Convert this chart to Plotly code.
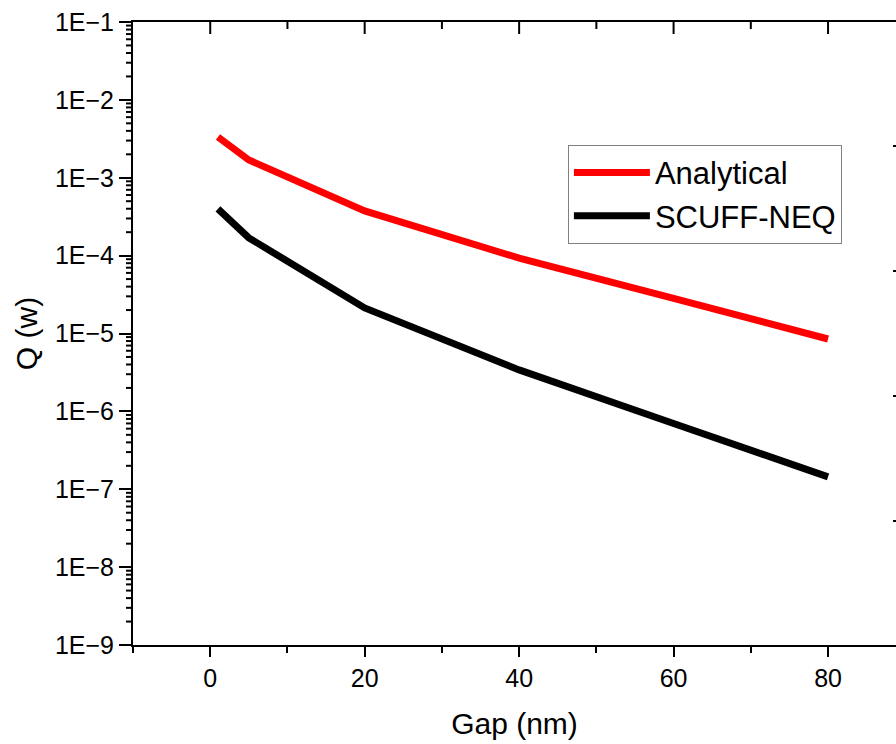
import math
import plotly.graph_objects as go

gap_nm = [1, 5, 20, 40, 60, 80]
analytical = [3.34e-3, 1.69e-3, 3.75e-4, 9.3e-5, 2.83e-5, 8.5e-6]
scuff_neq = [3.98e-4, 1.69e-4, 2.13e-5, 3.41e-6, 7.0e-7, 1.44e-7]

y_decades = list(range(-9, 0))
y_tick_vals = [10.0 ** e for e in y_decades]
y_tick_text = ["1E\u2212%d" % (-e) for e in y_decades]
y_minor_vals = [m * 10.0 ** e for e in y_decades[:-1] for m in range(2, 10)]
x_tick_vals = [0, 20, 40, 60, 80]
x_minor_vals = [10, 30, 50, 70]

Y_LOG_RANGE = [-9, -1]
FONT = "Arial, Liberation Sans, sans-serif"
PLOT_W, PLOT_H = 763, 623

fig = go.Figure()
fig.add_trace(go.Scatter(x=gap_nm, y=analytical, mode="lines", name="Analytical",
                         line=dict(color="#ff0000", width=7)))
fig.add_trace(go.Scatter(x=gap_nm, y=scuff_neq, mode="lines", name="SCUFF-NEQ",
                         line=dict(color="#000000", width=7)))

axis_common = dict(showgrid=False, zeroline=False, linecolor="black", linewidth=2,
                   tickcolor="black", tickwidth=2)

fig.update_layout(
    width=896, height=744,
    margin=dict(l=133, r=0, t=22, b=99),
    paper_bgcolor="white", plot_bgcolor="white",
    font=dict(family=FONT, color="black"),
    xaxis=dict(range=[-10, 88.8], tickvals=x_tick_vals, ticks="outside", ticklen=10,
               showline=True, mirror=True, tickfont=dict(size=25),
               minor=dict(ticks="outside", ticklen=6, dtick=10, tickcolor="black", tickwidth=2),
               title=dict(text="Gap (nm)", font=dict(size=30), standoff=22),
               **axis_common),
    yaxis=dict(type="log", range=Y_LOG_RANGE, tickvals=y_tick_vals, ticktext=y_tick_text,
               ticks="outside", ticklen=12, showline=True, tickfont=dict(size=25),
               title=dict(text="Q (w)", font=dict(size=30), standoff=8),
               **axis_common),
    legend=dict(x=0.57, y=0.803, xanchor="left", yanchor="top",
                bgcolor="white", bordercolor="#808080", borderwidth=1,
                font=dict(size=31, family=FONT), tracegroupgap=0, itemwidth=76),
    showlegend=True,
)

tick_line = dict(color="black", width=2)
# y minor ticks (outside, left) in paper coordinates derived from the log axis range
for v in y_minor_vals:
    py = (math.log10(v) - Y_LOG_RANGE[0]) / (Y_LOG_RANGE[1] - Y_LOG_RANGE[0])
    fig.add_shape(type="line", xref="paper", yref="paper", x0=-7 / PLOT_W, x1=0,
                  y0=py, y1=py, line=tick_line, layer="above")
# top axis ticks pointing inward
for v in x_tick_vals:
    fig.add_shape(type="line", xref="x", yref="paper", x0=v, x1=v,
                  y0=1, y1=1 - 12 / PLOT_H, line=tick_line, layer="above")
for v in x_minor_vals:
    fig.add_shape(type="line", xref="x", yref="paper", x0=v, x1=v,
                  y0=1, y1=1 - 7 / PLOT_H, line=tick_line, layer="above")

# partial marks at the right edge of the cropped picture
for yp in [146, 271, 396, 521]:
    fig.add_shape(type="line", xref="paper", yref="paper",
                  x0=(893 - 133) / PLOT_W, x1=1.0,
                  y0=(645 - yp) / PLOT_H, y1=(645 - yp) / PLOT_H,
                  line=tick_line)

fig.write_html("out.html")
